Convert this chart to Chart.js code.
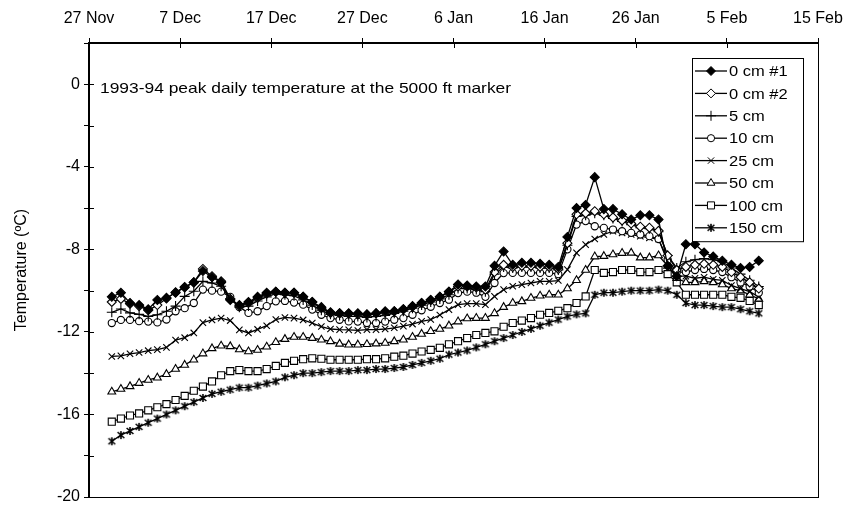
<!DOCTYPE html>
<html lang="en">
<head>
<meta charset="UTF-8" />
<title>1993-94 peak daily temperature, 5000 ft marker</title>
<script src="https://cdn.jsdelivr.net/npm/chart.js@4.4.1/dist/chart.umd.min.js"></script>
<style>
  html, body { margin: 0; padding: 0; background: #fff; }
  #wrap { width: 845px; height: 506px; }
</style>
</head>
<body>
<div id="wrap"><canvas id="tempChart" width="845" height="506"></canvas></div>
<script>
// x axis: days counted from 27 Nov 1993, one reading per day plotted at midday
const tickLabels = ['27 Nov', '7 Dec', '17 Dec', '27 Dec', '6 Jan', '16 Jan', '26 Jan', '5 Feb', '15 Feb'];
const firstDay = 2.5;

// peak daily temperature (deg C) per depth
const cm0a = [-10.3, -10.1, -10.6, -10.7, -10.9, -10.45, -10.35, -10.1, -9.85, -9.6,
  -9.05, -9.35, -9.6, -10.45, -10.7, -10.55, -10.3, -10.1, -10.05, -10.1,
  -10.1, -10.3, -10.55, -10.8, -11.05, -11.1, -11.1, -11.1, -11.15, -11.1,
  -11.0, -11.0, -10.9, -10.75, -10.6, -10.45, -10.3, -10.05, -9.7, -9.75,
  -9.8, -9.8, -8.8, -8.1, -8.75, -8.65, -8.65, -8.7, -8.75, -8.85,
  -7.4, -6.0, -5.85, -4.5, -6.05, -6.05, -6.3, -6.55, -6.35, -6.35,
  -6.55, -8.8, -9.3, -7.75, -7.75, -8.15, -8.35, -8.55, -8.75, -8.9,
  -8.85, -8.55];
const cm0b = [-10.55, -10.4, -10.63, -10.75, -10.95, -10.7, -10.38, -10.08, -9.82, -9.6,
  -8.95, -9.3, -9.55, -10.4, -10.75, -10.6, -10.35, -10.15, -10.05, -10.1,
  -10.1, -10.3, -10.55, -10.85, -11.08, -11.1, -11.12, -11.15, -11.17, -11.1,
  -11.05, -11.0, -10.9, -10.78, -10.6, -10.45, -10.3, -10.05, -9.8, -9.8,
  -9.85, -9.95, -9.1, -8.75, -8.85, -8.8, -8.8, -8.85, -8.85, -8.95,
  -7.7, -6.3, -6.25, -6.15, -6.3, -6.45, -6.6, -6.75, -6.9, -6.95,
  -7.1, -8.3, -9.0, -8.85, -8.75, -8.7, -8.75, -8.85, -9.1, -9.35,
  -9.6, -9.9];
const cm5 = [-11.05, -10.89, -11.08, -11.15, -11.25, -11.17, -11.0, -10.75, -10.28, -10.03,
  -9.55, -9.63, -9.79, -10.4, -10.8, -10.75, -10.5, -10.3, -10.15, -10.2,
  -10.25, -10.45, -10.7, -10.95, -11.15, -11.2, -11.25, -11.25, -11.3, -11.25,
  -11.2, -11.1, -11.0, -10.85, -10.7, -10.55, -10.4, -10.2, -9.9, -9.9,
  -9.95, -10.05, -9.2, -8.85, -8.9, -8.85, -8.85, -8.9, -8.9, -9.0,
  -7.8, -6.4, -6.35, -6.25, -6.35, -6.5, -6.65, -6.8, -6.95, -7.0,
  -7.15, -8.3, -8.9, -8.6, -8.5, -8.45, -8.5, -8.6, -8.9, -9.2,
  -9.5, -9.8];
const cm10 = [-11.57, -11.42, -11.42, -11.48, -11.5, -11.54, -11.4, -11.0, -10.85, -10.6,
  -9.95, -10.0, -10.05, -10.3, -10.8, -11.08, -11.0, -10.75, -10.52, -10.5,
  -10.58, -10.68, -10.92, -11.17, -11.33, -11.41, -11.49, -11.5, -11.57, -11.57,
  -11.5, -11.41, -11.33, -11.17, -10.95, -10.78, -10.6, -10.44, -10.12, -10.05,
  -10.1, -10.3, -9.63, -9.15, -9.14, -9.14, -9.14, -9.14, -9.14, -9.2,
  -8.0, -6.8, -6.63, -6.88, -6.96, -7.04, -7.12, -7.2, -7.28, -7.36,
  -7.5, -8.5, -9.1, -9.1, -9.0, -8.95, -9.0, -9.1, -9.35, -9.6,
  -9.8, -10.1];
const cm25 = [-13.19, -13.16, -13.06, -13.0, -12.91, -12.86, -12.75, -12.4, -12.28, -12.05,
  -11.55, -11.42, -11.33, -11.45, -11.9, -12.05, -11.88, -11.7, -11.4, -11.3,
  -11.33, -11.42, -11.57, -11.74, -11.86, -11.89, -11.9, -11.93, -11.89, -11.89,
  -11.86, -11.8, -11.72, -11.62, -11.49, -11.4, -11.18, -10.92, -10.68, -10.63,
  -10.63, -10.68, -10.28, -9.95, -9.79, -9.71, -9.63, -9.55, -9.55, -9.51,
  -8.98, -8.17, -7.77, -7.5, -7.28, -7.12, -7.2, -7.28, -7.36, -7.44,
  -7.5, -8.6, -9.3, -9.3, -9.4, -9.35, -9.45, -9.5, -9.75, -9.9,
  -10.05, -10.3];
const cm50 = [-14.9, -14.77, -14.64, -14.48, -14.33, -14.22, -14.05, -13.8, -13.6, -13.35,
  -13.05, -12.8, -12.67, -12.7, -12.85, -12.95, -12.88, -12.72, -12.5, -12.35,
  -12.25, -12.25, -12.3, -12.38, -12.46, -12.58, -12.62, -12.62, -12.6, -12.57,
  -12.54, -12.46, -12.38, -12.25, -12.1, -11.97, -11.86, -11.7, -11.5, -11.35,
  -11.33, -11.33, -11.1, -10.8, -10.6, -10.52, -10.36, -10.25, -10.2, -10.2,
  -9.9, -9.5, -9.0, -8.35, -8.33, -8.25, -8.18, -8.17, -8.4, -8.4,
  -8.3, -8.8, -9.4, -9.6, -9.6, -9.55, -9.6, -9.7, -9.9, -10.0,
  -10.2, -10.4];
const cm100 = [-16.35, -16.2, -16.05, -15.95, -15.8, -15.65, -15.5, -15.3, -15.1, -14.85,
  -14.65, -14.4, -14.1, -13.9, -13.85, -13.9, -13.9, -13.8, -13.65, -13.5,
  -13.4, -13.32, -13.28, -13.3, -13.35, -13.35, -13.35, -13.35, -13.32, -13.32,
  -13.28, -13.2, -13.15, -13.05, -12.95, -12.87, -12.77, -12.6, -12.45, -12.3,
  -12.15, -12.05, -11.97, -11.75, -11.57, -11.45, -11.33, -11.17, -11.08, -10.98,
  -10.85, -10.6, -10.28, -9.0, -9.14, -9.1, -9.0, -9.0, -9.1, -9.1,
  -9.0, -9.2, -9.6, -10.2, -10.2, -10.2, -10.2, -10.2, -10.3, -10.35,
  -10.5, -10.7];
const cm150 = [-17.3, -17.0, -16.8, -16.6, -16.4, -16.2, -16.0, -15.8, -15.6, -15.4,
  -15.2, -15.0, -14.9, -14.8, -14.7, -14.7, -14.6, -14.5, -14.4, -14.2,
  -14.1, -14.0, -14.0, -13.95, -13.9, -13.9, -13.9, -13.85, -13.85, -13.8,
  -13.8, -13.75, -13.7, -13.6, -13.5, -13.4, -13.3, -13.1, -13.0, -12.9,
  -12.75, -12.6, -12.45, -12.3, -12.15, -12.0, -11.85, -11.7, -11.55, -11.4,
  -11.25, -11.15, -11.1, -10.2, -10.1, -10.1, -10.05, -10.0, -10.0, -10.0,
  -9.95, -10.0, -10.2, -10.6, -10.7, -10.7, -10.75, -10.8, -10.8, -10.9,
  -11.0, -11.1];

// asterisk marker (x with a vertical stroke) for the 150 cm series
function asteriskMarker(size) {
  const c = document.createElement('canvas');
  c.width = c.height = size;
  const g = c.getContext('2d');
  const m = size / 2, r = size / 2 - 1;
  g.strokeStyle = '#000';
  g.lineWidth = 1.6;
  g.beginPath();
  g.moveTo(m - r * 0.85, m - r * 0.75); g.lineTo(m + r * 0.85, m + r * 0.75);
  g.moveTo(m + r * 0.85, m - r * 0.75); g.lineTo(m - r * 0.85, m + r * 0.75);
  g.moveTo(m, m - r); g.lineTo(m, m + r);
  g.stroke();
  return c;
}

const series = [
  { label: '0 cm #1', values: cm0a, style: 'rectRot', r: 4.5, fill: '#000' },
  { label: '0 cm #2', values: cm0b, style: 'rectRot', r: 4.5, fill: '#fff' },
  { label: '5 cm', values: cm5, style: 'cross', r: 5, fill: '#fff' },
  { label: '10 cm', values: cm10, style: 'circle', r: 3.6, fill: '#fff' },
  { label: '25 cm', values: cm25, style: 'crossRot', r: 4.5, fill: '#fff' },
  { label: '50 cm', values: cm50, style: 'triangle', r: 4.5, fill: '#fff' },
  { label: '100 cm', values: cm100, style: 'rect', r: 5, fill: '#fff' },
  { label: '150 cm', values: cm150, style: asteriskMarker(10), r: 5, fill: '#fff' }
];

const FONT = "'Liberation Sans', Arial, sans-serif";

// text drawn slightly widened, like the printed original
function wideText(ctx, text, x, y, sx) {
  ctx.save();
  ctx.translate(x, y);
  ctx.scale(sx, 1);
  ctx.fillText(text, 0, 0);
  ctx.restore();
}

// keep the plot box fixed: no extra room for labels hanging past the ends
function noEdgePadding(s) {
  s.paddingLeft = s.paddingRight = s.paddingTop = s.paddingBottom = 0;
}

// boxed frame around the plot plus ticks that cross the axis lines
const frameAndTicks = {
  id: 'frameAndTicks',
  afterDraw(chart) {
    const { ctx, chartArea: a, scales } = chart;
    ctx.save();
    ctx.strokeStyle = '#000';
    ctx.lineWidth = 1;
    ctx.strokeRect(a.left + 0.5, a.top + 0.5, a.right - a.left, a.bottom - a.top);
    ctx.beginPath();
    scales.x.ticks.forEach(t => {
      const px = Math.round(scales.x.getPixelForValue(t.value)) + 0.5;
      ctx.moveTo(px, a.top); ctx.lineTo(px, a.top + 5);
    });
    scales.y.ticks.forEach(t => {
      const py = Math.round(scales.y.getPixelForValue(t.value)) + 0.5;
      ctx.moveTo(a.left, py); ctx.lineTo(a.left + 5, py);
    });
    ctx.stroke();

    // caption inside the plot
    ctx.fillStyle = '#000';
    ctx.font = '15px ' + FONT;
    ctx.textBaseline = 'middle';
    wideText(ctx, '1993-94 peak daily temperature at the 5000 ft marker', a.left + 11, scales.y.getPixelForValue(0) + 5, 1.16);
    ctx.restore();
  }
};

// legend box with a short line through each marker
const lineLegend = {
  id: 'lineLegend',
  afterDraw(chart) {
    const { ctx, chartArea: a } = chart;
    const left = a.right - 126, top = a.top + 15, w = 111, rowH = 22.4;
    const h = rowH * series.length + 4;
    ctx.save();
    ctx.fillStyle = '#fff';
    ctx.fillRect(left, top, w, h);
    ctx.strokeStyle = '#000';
    ctx.lineWidth = 1;
    ctx.strokeRect(left + 0.5, top + 0.5, w, h);
    ctx.font = '15px ' + FONT;
    ctx.textBaseline = 'middle';
    series.forEach((s, i) => {
      const cy = top + 13 + i * rowH;
      ctx.lineWidth = 1.3;
      ctx.beginPath();
      ctx.moveTo(left + 3, cy); ctx.lineTo(left + 35, cy);
      ctx.stroke();
      ctx.lineWidth = 1;
      ctx.fillStyle = s.fill;
      Chart.helpers.drawPoint(ctx, { pointStyle: s.style, radius: s.r, borderWidth: 1, rotation: 0 }, left + 19, cy);
      ctx.fillStyle = '#000';
      wideText(ctx, s.label, left + 37, cy + 1, 1.1);
    });
    ctx.restore();
  }
};

new Chart(document.getElementById('tempChart'), {
  type: 'line',
  data: {
    datasets: series.map(s => ({
      label: s.label,
      data: s.values.map((v, i) => ({ x: firstDay + i, y: v })),
      borderColor: '#000',
      borderWidth: 1.3,
      pointStyle: s.style,
      pointRadius: s.r,
      pointBackgroundColor: s.fill,
      pointBorderColor: '#000',
      pointBorderWidth: 1.1,
      tension: 0
    }))
  },
  options: {
    responsive: false,
    animation: false,
    layout: { padding: { left: 12, right: 27, top: 0, bottom: 9 } },
    plugins: {
      legend: { display: false },
      tooltip: { enabled: false }
    },
    scales: {
      x: {
        type: 'linear',
        position: 'top',
        min: 0,
        max: 80,
        afterFit: s => { s.height = 43; noEdgePadding(s); },
        ticks: {
          stepSize: 10,
          color: '#000',
          font: { family: FONT, size: 16 },
          padding: 10,
          maxRotation: 0,
          callback: v => tickLabels[v / 10]
        },
        grid: { drawOnChartArea: false, tickLength: 5, color: '#000' },
        border: { color: '#000', width: 1.3 }
      },
      y: {
        min: -20,
        max: 2,
        afterFit: s => { s.width = 77; noEdgePadding(s); },
        ticks: {
          stepSize: 2,
          color: '#000',
          font: { family: FONT, size: 16 },
          padding: 4,
          callback: v => (v % 4 === 0 ? String(v) : '')
        },
        grid: { drawOnChartArea: false, tickLength: 5, color: '#000' },
        border: { color: '#000', width: 1.3 },
        title: {
          display: true,
          text: 'Temperature (\u00baC)',
          color: '#000',
          font: { family: FONT, size: 16 },
          padding: { top: 0, bottom: 0 }
        }
      }
    }
  },
  plugins: [frameAndTicks, lineLegend]
});
</script>
</body>
</html>
